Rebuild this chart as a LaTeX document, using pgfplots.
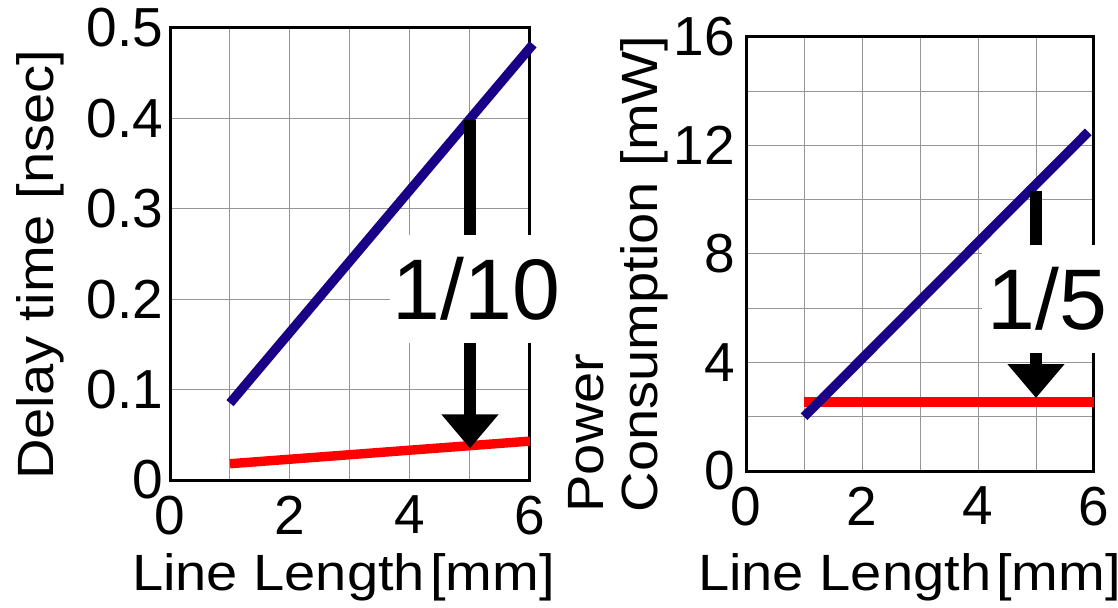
\documentclass[border=0pt]{standalone}
\usepackage{pgfplots}
\pgfplotsset{compat=1.18}
\usepackage{fontspec}
\setmainfont{Liberation Sans}
\newfontfamily\labelfont[FakeStretch=1.1]{Liberation Sans}
\usetikzlibrary{arrows.meta}
\definecolor{navyline}{RGB}{25,0,135}
\definecolor{gridgray}{RGB}{150,150,150}
\pgfplotsset{
  myaxis/.style={
    scale only axis, anchor=south west,
    xmin=0, xmax=6, xtick={0,2,4,6}, minor xtick={1,3,5},
    grid=both,
    major grid style={gridgray, line width=0.5bp},
    minor grid style={gridgray, line width=0.5bp},
    axis line style={black, line width=1.5bp},
    major tick length=0pt, minor tick length=0pt,
    tick label style={font=\fontsize{27.5bp}{30bp}\selectfont},
    /pgf/number format/assume math mode=true,
    xticklabel style={yshift=-4.5bp},
    label style={font=\labelfont\fontsize{25.5bp}{27bp}\selectfont},
    clip=false,
  }
}
\begin{document}
\begin{tikzpicture}
\path[use as bounding box] (0,0) rectangle (559bp,304bp);
\begin{axis}[myaxis, at={(85bp,64bp)}, width=180bp, height=226bp,
  ymin=0, ymax=0.5, ytick={0,0.1,0.2,0.3,0.4,0.5},
  yticklabel style={/pgf/number format/fixed, /pgf/number format/precision=1},
  xlabel={Line Length\hspace{0.1em}[mm]},
  xlabel style={at={(axis description cs:0.482,-0.2434)}, anchor=base},
  ylabel={Delay time [nsec]},
  ylabel style={at={(axis description cs:-0.3611,0.476)}, anchor=center},
]
\addplot[navyline, line width=4.7bp] coordinates {(1,0.085) (6.05,0.482)};
\addplot[red, line width=4.7bp] coordinates {(1,0.018) (6,0.043)};
\coordinate (LA) at (axis cs:5,0.398);
\coordinate (LB) at (axis cs:5,0.035);
\coordinate (LT) at (axis cs:5.11,0.2113);
\end{axis}
\begin{axis}[myaxis, at={(373bp,68.5bp)}, width=174bp, height=217bp,
  ymin=0, ymax=16, ytick={0,4,8,12,16}, minor ytick={2,6,10,14},
  yticklabel style={xshift=-2bp},
  xlabel={Line Length\hspace{0.1em}[mm]},
  xlabel style={at={(axis description cs:0.47,-0.2742)}, anchor=base},
  ylabel={Power\\Consumption [mW]},
  ylabel style={at={(axis description cs:-0.3678,0.454)}, anchor=center, align=left},
]
\addplot[red, line width=4.7bp] coordinates {(1,2.55) (6,2.55)};
\addplot[navyline, line width=4.7bp] coordinates {(1,2.0) (5.9,12.5)};
\coordinate (RA) at (axis cs:5,10.33);
\coordinate (RB) at (axis cs:5,2.69);
\coordinate (RT) at (axis cs:5.2,6.34);
\end{axis}
\draw[line width=6bp, -{Triangle[width=27.5bp,length=17bp]}] (LA) -- (LB);
\draw[line width=6bp, -{Triangle[width=27.5bp,length=17bp]}] (RA) -- (RB);
\node[fill=white, inner xsep=1.5bp, inner ysep=11.75bp, text height=30.8bp, text depth=0pt,
  font=\fontsize{43bp}{50bp}\selectfont] at (LT) {1/10};
\node[fill=white, inner xsep=3bp, inner ysep=11.5bp, text height=30.8bp, text depth=0pt,
  font=\fontsize{43bp}{50bp}\selectfont] at (RT) {1/5};
\end{tikzpicture}
\end{document}
